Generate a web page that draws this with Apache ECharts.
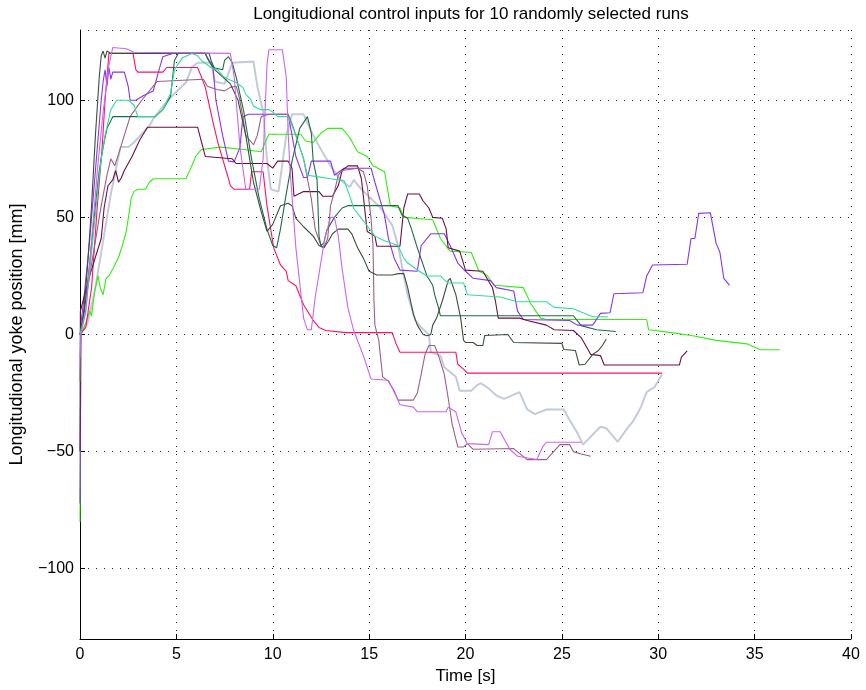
<!DOCTYPE html>
<html>
<head>
<meta charset="utf-8">
<title>Longitudional control inputs</title>
<script src="https://cdn.jsdelivr.net/npm/echarts@6/dist/echarts.min.js"></script>
<style>
  html, body { margin: 0; padding: 0; background: #fff; }
  #chart { width: 866px; height: 690px; }
</style>
</head>
<body>
<div id="chart"></div>
<script>
// one [time s, yoke mm] list per run
const runGreen = [[0,-80],[0.05,0],[0.3,5],[0.5,10],[0.6,8],[0.75,18],[0.93,25],[1.05,20],[1.2,17],[1.35,24],[1.5,25],[1.7,28],[2.0,33],[2.2,38],[2.4,44],[2.55,52],[2.65,58],[2.8,61],[3.0,62],[3.4,62],[3.6,65],[3.8,66.5],[5.5,66.5],[5.8,72],[6.0,76],[6.3,79],[7.3,80],[8.5,79],[9.4,78],[9.6,82],[9.8,85.5],[11.45,85.5],[11.7,82.6],[12.1,82],[12.5,86],[12.85,88],[13.6,88],[14.0,84],[14.4,78],[14.9,76],[15.2,72],[15.8,69.5],[16.1,55],[16.6,54],[16.8,50],[18.3,49],[18.7,41],[19.2,35.6],[20.3,35],[20.7,27],[21.1,25.4],[21.5,21],[23.0,20],[23.4,13],[23.9,7],[24.2,6.4],[29.4,6.4],[29.5,2],[30.5,1],[31.8,-0.5],[33.0,-2.5],[34.6,-4],[35.3,-6.5],[36.3,-6.5]];
const runPurple = [[0,-72],[0.05,5],[0.2,15],[0.5,40],[0.8,70],[1.0,90],[1.1,100],[1.2,108],[1.3,113],[1.4,106],[1.5,114],[1.6,109],[1.7,112],[2.3,112],[2.5,106],[2.6,100],[2.9,100],[3.3,102],[3.8,104],[4.1,113],[4.3,118.6],[4.8,120],[6.5,120],[6.9,114],[7.05,100],[7.4,85],[7.7,74],[8.0,73.7],[8.3,80],[8.45,93],[8.75,94],[10.8,94],[11.0,85],[11.2,76],[11.6,67],[11.8,67],[12.0,74],[13.0,74],[13.2,68],[13.7,71],[15.1,71],[15.3,65],[15.8,51],[16.0,41],[16.3,32.6],[16.6,27.5],[17.5,27],[17.7,38],[18.2,43],[18.9,43],[19.2,38],[19.6,30.5],[20.0,27],[20.4,24],[21.3,23],[21.6,20],[22.5,18.6],[22.7,10],[23.0,6.4],[25.4,6],[25.8,4],[26.6,4],[27.0,9],[27.5,9.3],[27.7,17.4],[29.2,17.8],[29.4,25],[29.7,29.7],[31.5,30],[31.7,41],[31.9,41],[32.1,51.7],[32.7,52],[33.0,39],[33.2,35],[33.4,24],[33.7,21]];
const runGrey = [[0,0],[0.4,5],[0.8,20],[1.2,40],[1.6,60],[2.1,80],[2.5,80],[2.8,82],[3.2,85.6],[3.6,89],[3.8,92],[4.3,97.5],[4.8,102],[5.5,107.6],[5.8,114],[6.1,116],[6.8,116],[7.0,108],[7.5,107],[7.9,116],[9.0,116.5],[9.2,106],[9.5,95],[9.7,75],[9.9,62],[10.3,61],[10.7,85],[11.0,94],[11.6,94],[12.1,85],[12.5,79],[13.0,72],[13.5,66],[14.0,63],[14.2,66],[14.6,62],[15.6,54],[16.2,46.6],[16.5,38],[16.8,25],[17.0,17],[17.4,6],[17.7,3],[18.1,0],[18.2,-7.6],[18.7,-9],[18.9,-14],[19.5,-18],[19.7,-24],[20.3,-24],[20.6,-21.6],[20.8,-20.8],[21.2,-23],[21.6,-26],[22.0,-27.5],[22.8,-24.6],[23.2,-32],[23.6,-34],[24.2,-32],[25.1,-32],[25.4,-36.5],[25.8,-42],[26.1,-47],[26.5,-43.6],[27.0,-39.4],[27.3,-40],[27.9,-45.8],[28.4,-40],[28.7,-37],[29.1,-31],[29.4,-24.6],[29.8,-22.5],[30.2,-17]];
const runRed = [[0,0],[0.3,3],[0.6,20],[0.9,55],[1.15,80],[1.3,100],[1.5,120],[2.75,120],[2.9,113],[3.0,112],[4.3,112],[4.5,114],[6.1,114],[6.3,110],[6.5,105.5],[6.9,90.7],[7.15,82],[7.4,75],[7.65,68],[7.8,63.6],[8.0,62],[8.8,62],[8.9,69.5],[9.5,69.5],[9.7,55],[10.05,37],[10.4,29.7],[10.7,27],[10.8,23],[11.2,20.8],[11.6,12.7],[12.1,6],[12.4,3],[12.75,1.7],[13.8,0.8],[16.2,0.8],[16.4,-4],[16.6,-7.6],[19.5,-7.6],[19.6,-12.7],[19.9,-14.8],[20.1,-16.5],[30.2,-16.5]];
const runMaroon = [[0,-50],[0.02,10],[0.2,15.7],[0.5,25],[0.8,33],[1.1,41],[1.25,54],[1.45,63.5],[1.7,66],[1.85,70],[2.0,65],[2.15,67],[2.3,70],[2.7,76],[3.1,83],[3.5,88.5],[6.1,88.5],[6.5,76],[7.9,75],[8.1,73],[9.7,73],[10.0,71],[10.25,74],[10.8,74],[11.0,71],[11.1,59],[11.6,61],[12.4,61],[12.6,59],[13.1,59],[13.4,63.6],[13.6,70],[13.9,72],[14.4,72],[14.6,66.5],[14.9,44],[15.3,42],[15.4,37.7],[16.6,37.7],[16.8,54],[17.0,60],[17.6,60],[17.8,57],[18.1,54],[18.3,50],[18.8,49.6],[19.0,45],[19.1,37],[19.7,35.6],[20.0,27.5],[20.9,27],[21.4,20],[21.55,14.4],[21.7,7],[22.8,7],[23.2,6],[24.2,4],[24.6,2],[25.6,1.7],[26.0,-1.3],[26.5,-8.5],[27.0,-9],[27.2,-13],[31.1,-13],[31.2,-9.7],[31.5,-7]];
const runMauve = [[0,-20],[0.03,0],[0.2,10],[0.5,25],[0.8,40],[1.1,55],[1.4,68],[1.6,75],[1.8,72],[2.0,77],[2.3,85],[2.6,93],[3.2,100],[3.6,104],[4.0,108],[6.4,109],[6.6,106],[7.1,104.6],[7.5,104],[7.8,105.5],[8.1,106],[8.25,101.7],[8.45,93],[8.6,85],[9.0,81],[9.2,85],[9.4,93],[9.8,94],[10.8,94],[11.0,90],[11.6,75],[11.8,66.5],[12.0,58],[12.2,45],[12.5,38],[12.65,37],[12.85,41],[13.0,55],[13.2,61],[13.4,68],[13.6,70],[14.4,71],[14.7,69.5],[14.9,63.6],[15.1,49.6],[15.2,38],[15.25,15],[15.3,4],[15.5,-2.5],[15.7,-18],[16.0,-20],[16.3,-24],[16.5,-28],[17.3,-28],[17.5,-25],[17.7,-17],[17.9,-8.5],[18.1,-4.7],[18.4,-4.7],[18.6,-9],[18.9,-17],[19.1,-27],[19.3,-38],[19.6,-48],[19.9,-48],[20.1,-46.6],[20.4,-49],[22.5,-48.7],[23.2,-53.4],[24.2,-53.4],[24.9,-47],[25.4,-47],[25.6,-50],[26.0,-51],[26.5,-52]];
const runDarkGreen = [[0,0],[0.2,8],[0.5,30],[0.8,55],[1.0,70],[1.2,80],[1.4,88],[1.7,93],[3.9,93],[4.3,96],[4.7,101.7],[4.9,117],[5.1,120],[6.5,120],[6.6,118],[6.9,114],[7.4,113],[7.5,117],[7.7,118.6],[7.9,116],[8.1,110],[8.5,95],[8.9,75],[9.3,58],[9.7,45],[10.0,38],[10.2,37],[10.4,45],[10.7,60],[11.0,74],[11.4,88],[11.8,93],[12.0,86],[12.1,74],[12.3,66],[12.4,42],[12.5,38],[12.65,39],[12.8,44.5],[13.2,50],[13.6,54],[13.9,55],[16.5,55],[16.7,51],[17.0,49.6],[17.2,45],[17.5,37],[18.0,25],[18.3,21],[18.4,17],[18.6,11.4],[18.7,8],[25.6,8],[26.0,3.8],[26.8,2],[27.8,1.3]];
const runOlive = [[0,0],[0.2,10],[0.4,30],[0.6,55],[0.8,85],[1.0,110],[1.1,119],[1.2,121],[1.3,118],[1.4,121],[1.6,120],[6.7,120],[6.8,117],[7.0,113],[7.4,110],[7.8,107],[8.2,100],[8.6,85],[9.0,65],[9.4,52.5],[9.7,44],[10.0,47],[10.4,55],[10.8,56],[11.0,55],[11.2,49.6],[11.6,46],[12.1,42],[12.4,38],[12.65,37],[12.9,40],[13.1,43],[13.4,45],[13.9,45],[14.1,43],[14.4,37],[14.7,32.6],[15.0,27],[15.4,25.4],[16.2,25.4],[16.5,26],[16.8,26],[17.0,20],[17.3,8.5],[17.5,4],[17.8,0],[18.0,-0.5],[18.2,0],[18.3,4],[18.5,7],[18.8,14.4],[19.1,23],[19.2,24],[19.5,17],[19.75,7],[19.9,-2.5],[20.0,-3.4],[20.4,-3.4],[20.6,-4.7],[20.9,-4.7],[21.0,-0.4],[22.2,0],[22.5,-3.4],[25.0,-3.8],[25.1,-6.4],[25.7,-6.8],[25.9,-13],[26.2,-12.7],[26.6,-8.5],[26.9,-6.8],[27.1,-4.7],[27.3,-2]];
const runTeal = [[0,0],[0.3,10],[0.6,35],[0.9,60],[1.1,75],[1.3,85],[1.6,96],[1.9,100],[2.5,100],[2.8,98],[3.0,93],[3.9,93],[4.3,96],[4.7,103],[4.9,113],[5.3,118],[5.8,120],[6.1,119],[6.3,117],[6.8,114],[7.15,113],[7.45,110],[7.7,109],[8.1,107.6],[8.45,105.5],[8.6,102.5],[8.85,100.4],[9.0,97.5],[9.4,96],[9.8,96],[10.0,95],[10.25,93],[10.8,93],[11.2,85],[11.6,75],[11.8,68],[12.3,67.4],[13.0,66.5],[13.7,65.7],[14.0,59],[14.2,53.8],[14.6,49.6],[14.8,47.5],[15.3,42],[15.8,40],[16.5,38],[16.8,32.6],[17.0,30.5],[17.6,27],[18.0,25],[18.7,25],[18.9,23.3],[19.1,22],[19.9,22],[20.1,17],[21.8,16],[22.3,14.8],[22.7,14],[24.2,14],[24.6,11.6],[25.6,11],[26.0,9.6],[26.6,7.6],[27.4,7.6]];
const runOrchid = [[0,-10],[0.05,0],[0.3,10],[0.6,40],[0.9,70],[1.2,95],[1.5,115],[1.7,122.5],[2.4,122],[2.8,120.5],[7.8,120],[8.0,110],[8.3,80],[8.6,62],[9.3,62],[9.5,75],[9.7,115],[9.8,121.6],[10.5,121.6],[10.7,110],[10.8,86],[10.9,70],[11.2,37],[11.6,7],[11.8,2],[12.0,2],[12.2,15.7],[12.5,31],[12.7,41],[13.0,50],[13.2,50],[13.4,42],[13.6,28],[13.9,11.4],[14.2,1.7],[14.7,-9],[15.1,-19],[16.0,-19.5],[16.5,-28],[16.6,-30],[17.3,-31],[17.5,-33],[19.0,-33],[19.1,-31],[19.5,-33],[19.8,-42],[20.1,-46.6],[21.2,-47],[21.4,-41.5],[21.8,-41.5],[22.3,-49],[22.7,-52],[23.7,-53.4],[24.0,-48],[24.2,-46],[26.0,-46]];

const runs = [runGrey, runGreen, runPurple, runRed, runMaroon, runMauve, runDarkGreen, runOlive, runTeal, runOrchid];
const runColors = ['#c2cadb', '#33ee11', '#8833ee', '#ff1166', '#6b0f3f', '#9c5f86', '#1d6b44', '#3a4f3a', '#33dd99', '#cc66ee'];

const fontFamily = 'Liberation Sans, Arial, sans-serif';
const chart = echarts.init(document.getElementById('chart'));

const option = {
  animation: false,
  backgroundColor: '#fff',
  title: {
    text: 'Longitudional control inputs for 10 randomly selected runs',
    left: 466,
    textAlign: 'center',
    top: 1,
    textStyle: { fontFamily: fontFamily, fontSize: 17, fontWeight: 'normal', color: '#000' }
  },
  grid: { left: 79, right: 15, top: 30, bottom: 48 },
  xAxis: {
    type: 'value',
    min: 0,
    max: 40,
    interval: 5,
    name: 'Time [s]',
    nameLocation: 'middle',
    nameGap: 29,
    nameTextStyle: { fontFamily: fontFamily, fontSize: 17, color: '#000' },
    axisLine: { onZero: false, lineStyle: { color: '#000', width: 1 } },
    axisTick: { inside: true, length: 5, lineStyle: { color: '#000' } },
    axisLabel: { fontFamily: fontFamily, fontSize: 16, color: '#000', margin: 8 },
    splitLine: { show: true, lineStyle: { color: '#222', type: [1, 7], width: 1 } }
  },
  yAxis: {
    type: 'value',
    min: -130,
    max: 130,
    splitNumber: 5,
    name: 'Longitudional yoke position [mm]',
    nameLocation: 'middle',
    nameGap: 54,
    nameTextStyle: { fontFamily: fontFamily, fontSize: 18, color: '#000' },
    axisLine: { show: true, onZero: false, lineStyle: { color: '#000', width: 1 } },
    axisTick: { inside: true, length: 5, lineStyle: { color: '#000' } },
    axisLabel: {
      fontFamily: fontFamily, fontSize: 16, color: '#000', margin: 6,
      showMinLabel: false, showMaxLabel: false,
      formatter: function (v) {
        if (v % 50 !== 0) return '';
        return String(v).replace('-', '\u2212');
      }
    },
    splitLine: { show: true, lineStyle: { color: '#222', type: [1, 7], width: 1 } }
  },
  series: runs.map(function (d, i) {
    return {
      type: 'line',
      data: d,
      showSymbol: false,
      silent: true,
      clip: true,
      lineStyle: { color: runColors[i], width: i === 0 ? 2 : 1.1 }
    };
  })
};

chart.setOption(option);
</script>
</body>
</html>
